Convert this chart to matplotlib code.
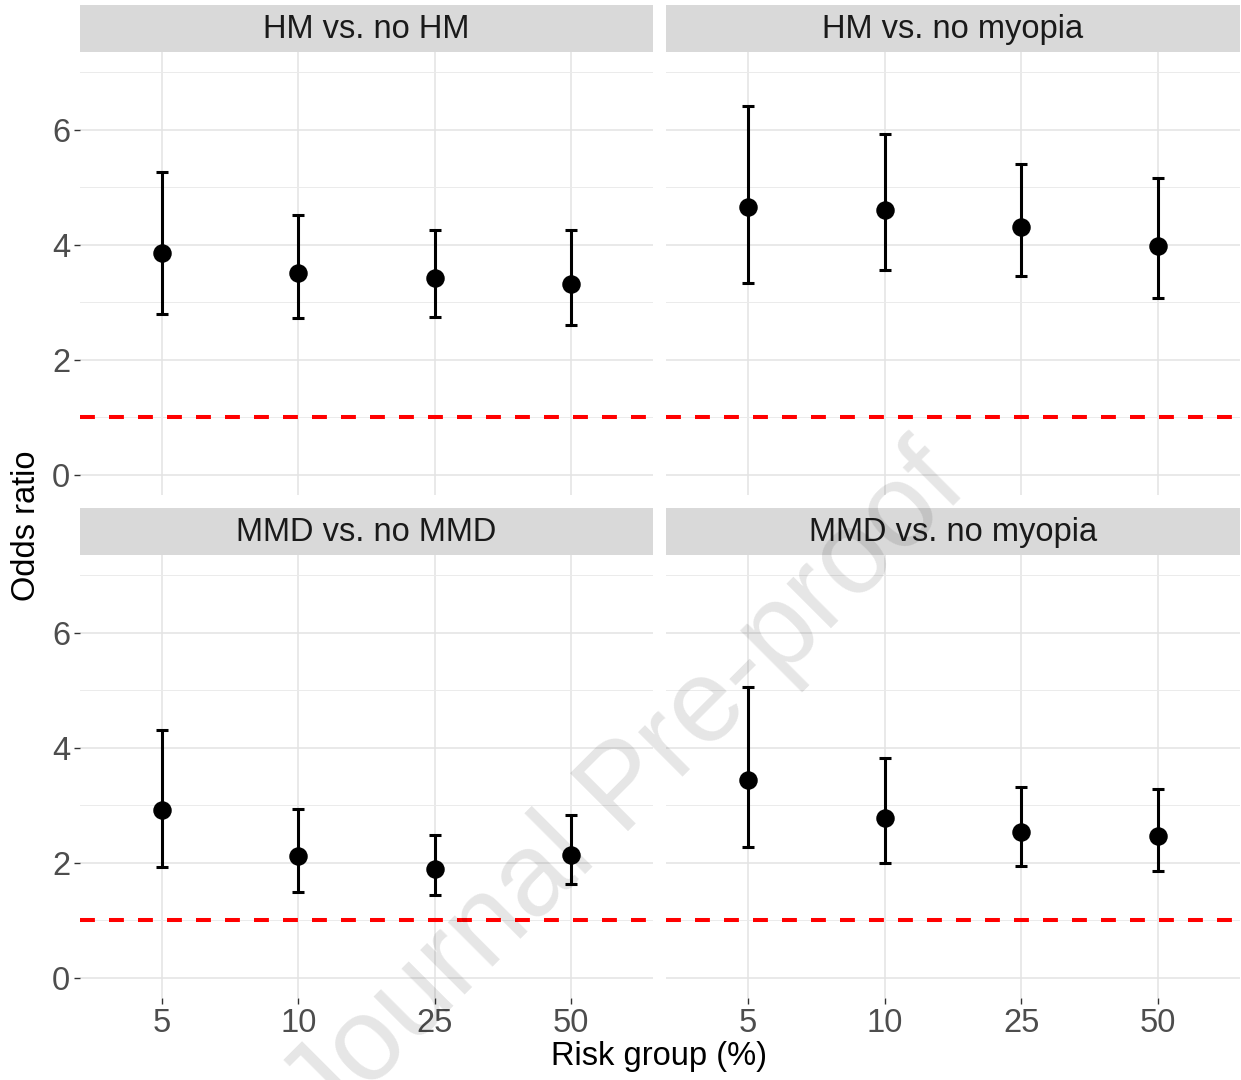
import numpy as np
import matplotlib.pyplot as plt

# ====================
# DATA
# ====================
risk_groups = ["5", "10", "25", "50"]
panel_titles = ["HM vs. no HM", "HM vs. no myopia", "MMD vs. no MMD", "MMD vs. no myopia"]

or_hm_nohm = [3.86, 3.51, 3.42, 3.31]
lo_hm_nohm = [2.79, 2.72, 2.75, 2.60]
hi_hm_nohm = [5.27, 4.52, 4.25, 4.26]

or_hm_nomyo = [4.66, 4.60, 4.31, 3.97]
lo_hm_nomyo = [3.34, 3.56, 3.46, 3.08]
hi_hm_nomyo = [6.42, 5.92, 5.40, 5.16]

or_mmd_nommd = [2.91, 2.11, 1.90, 2.14]
lo_mmd_nommd = [1.92, 1.49, 1.44, 1.63]
hi_mmd_nommd = [4.30, 2.94, 2.48, 2.83]

or_mmd_nomyo = [3.44, 2.78, 2.53, 2.46]
lo_mmd_nomyo = [2.28, 2.00, 1.94, 1.86]
hi_mmd_nomyo = [5.05, 3.83, 3.31, 3.28]

estimates = [or_hm_nohm, or_hm_nomyo, or_mmd_nommd, or_mmd_nomyo]
lowers = [lo_hm_nohm, lo_hm_nomyo, lo_mmd_nommd, lo_mmd_nomyo]
uppers = [hi_hm_nohm, hi_hm_nomyo, hi_mmd_nommd, hi_mmd_nomyo]

reference_or = 1

# ====================
# LAYOUT
# ====================
plt.rcParams['font.family'] = ['Liberation Sans', 'DejaVu Sans']
W, H = 1241, 1080
fig = plt.figure(figsize=(W / 100, H / 100), dpi=100)


def rect(x0, y0, x1, y1):
    return [x0 / W, 1 - y1 / H, (x1 - x0) / W, (y1 - y0) / H]


cols = [(80, 653), (666, 1240)]
rows = [(5, 52, 495), (508, 555, 998)]

xpos = np.arange(len(risk_groups))
fs = 23.5

for i in range(4):
    r, c = divmod(i, 2)
    x0, x1 = cols[c]
    s0, a0, a1 = rows[r]

    ax = fig.add_axes(rect(x0, a0, x1, a1))
    ax.set_xlim(-0.6, len(risk_groups) - 0.4)
    ax.set_ylim(-0.35, 7.35)
    for sp in ax.spines.values():
        sp.set_visible(False)

    ax.set_yticks([0, 2, 4, 6])
    ax.set_yticks([1, 3, 5, 7], minor=True)
    ax.set_xticks(xpos)
    ax.set_xticklabels(risk_groups)
    ax.grid(True, which='major', color='#E3E3E3', lw=1.1)
    ax.grid(True, which='minor', axis='y', color='#EBEBEB', lw=0.7)
    ax.set_axisbelow(True)
    ax.tick_params(which='minor', length=0)
    ax.tick_params(which='major', colors='#333333', labelcolor='#4D4D4D',
                   labelsize=fs, length=4, width=1, pad=3)
    if c == 1:
        ax.tick_params(axis='y', length=0, labelleft=False)
    if r == 0:
        ax.tick_params(axis='x', length=0, labelbottom=False)

    ax.axhline(reference_or, color='red', lw=2.9, ls=(0, (3.7, 3.5)), zorder=2)

    est = np.array(estimates[i])
    lo = np.array(lowers[i])
    hi = np.array(uppers[i])
    ax.errorbar(xpos, est, yerr=[est - lo, hi - est], fmt='o', color='black',
                ms=12.3, elinewidth=2.2, capsize=4.5, capthick=2.2, zorder=3)

    sax = fig.add_axes(rect(x0, s0, x1, a0))
    sax.set_facecolor('#D9D9D9')
    sax.set_xticks([])
    sax.set_yticks([])
    for sp in sax.spines.values():
        sp.set_visible(False)
    sax.text(0.5, 0.47, panel_titles[i], ha='center', va='center',
             fontsize=fs, color='#1A1A1A', transform=sax.transAxes)

fig.text(27 / W, 1 - 526 / H, "Odds ratio", rotation=90, ha='center', va='center',
         fontsize=fs, color='black')
fig.text(659 / W, 1 - 1057 / H, "Risk group (%)", ha='center', va='center',
         fontsize=fs, color='black')

# marca de agua
fig.text(626 / W, 1 - 790 / H, "Journal Pre-proof", rotation=45, ha='center', va='center',
         fontsize=85, color='black', alpha=0.1, zorder=10)

fig.savefig("out.png", dpi=100)
